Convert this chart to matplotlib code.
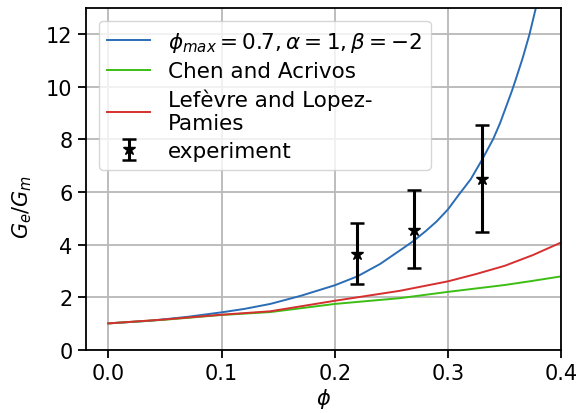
import numpy as np
import matplotlib
matplotlib.use("Agg")
import matplotlib.pyplot as plt

# values
phi_fit = [0.0, 0.037, 0.07, 0.1, 0.12, 0.143, 0.17, 0.2, 0.22, 0.24, 0.26,
           0.269, 0.28, 0.29, 0.3, 0.31, 0.32, 0.33, 0.34, 0.346, 0.3565,
           0.36, 0.366, 0.372, 0.3776, 0.381]
G_fit = [1.0, 1.10, 1.25, 1.42, 1.55, 1.74, 2.05, 2.45, 2.79, 3.26, 3.85,
         4.12, 4.50, 4.88, 5.34, 5.92, 6.48, 7.22, 8.02, 8.62, 9.85,
         10.3, 11.1, 12.0, 13.0, 13.6]

phi_chen = [0.0, 0.05, 0.1, 0.143, 0.2, 0.2575, 0.3, 0.325, 0.35, 0.375, 0.4]
G_chen = [1.0, 1.14, 1.32, 1.43, 1.74, 1.96, 2.20, 2.33, 2.46, 2.62, 2.79]

phi_lef = [0.0, 0.05, 0.1, 0.143, 0.2, 0.2575, 0.3, 0.325, 0.35, 0.375, 0.4]
G_lef = [1.0, 1.15, 1.33, 1.46, 1.86, 2.24, 2.60, 2.88, 3.19, 3.60, 4.08]

phi_exp = [0.22, 0.27, 0.33]
G_exp = [3.63, 4.55, 6.48]
err_low = [1.14, 1.45, 2.02]
err_high = [1.19, 1.52, 2.08]

plt.rcParams['font.size'] = 15

fig = plt.figure(figsize=(5.87, 4.14), dpi=100)
ax = fig.add_axes([0.146, 0.153, 0.810, 0.825])

ax.plot(phi_fit, G_fit, color='#2a6db5', lw=1.4,
        label=r'$\phi_{max} = 0.7, \alpha = 1, \beta = -2$')
ax.plot(phi_chen, G_chen, color='#3cbe14', lw=1.4, label='Chen and Acrivos')
ax.plot(phi_lef, G_lef, color='#d62f2f', lw=1.4, label='Lefèvre and Lopez-\nPamies')
ax.errorbar(phi_exp, G_exp, yerr=[err_low, err_high], fmt='k*', ms=9,
            elinewidth=2.2, capsize=5, capthick=1.8, label='experiment')

ax.set_xlim(-0.02, 0.4)
ax.set_ylim(0, 13)
ax.set_xticks([0.0, 0.1, 0.2, 0.3, 0.4])
ax.set_yticks([0, 2, 4, 6, 8, 10, 12])
ax.set_xlabel(r'$\phi$', labelpad=2)
ax.set_ylabel(r'$G_e/G_m$')
ax.yaxis.set_label_coords(-0.108, 0.42)
ax.grid(color='#b8b8b8', lw=1.3)
for s in ax.spines.values():
    s.set_linewidth(1.3)
ax.tick_params(width=1.3, length=6)
ax.legend(loc='upper left', borderaxespad=0.6, handletextpad=0.8,
          labelspacing=0.35, fontsize=15.5)

fig.savefig('out.png', dpi=100)
